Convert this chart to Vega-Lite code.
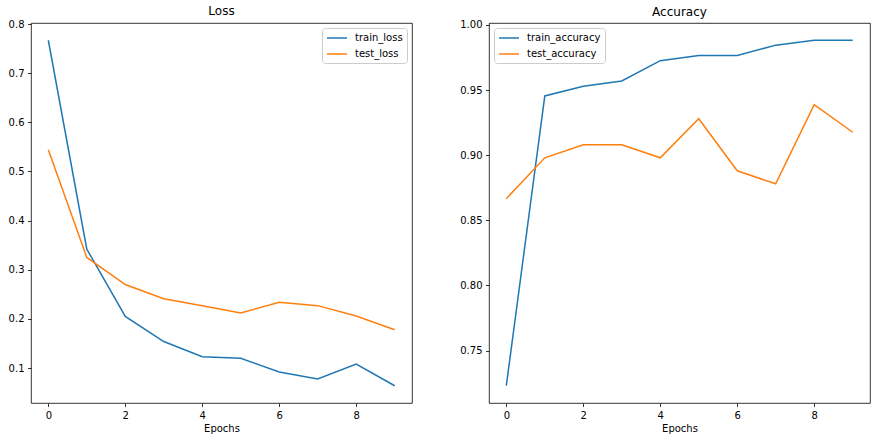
{
  "$schema": "https://vega.github.io/schema/vega-lite/v6.json",
  "background": "white",
  "padding": {"left": 7, "top": 4, "right": 5, "bottom": 5},
  "spacing": 46,
  "datasets": {
    "loss": [
      {"epoch": 0, "series": "train_loss", "value": 0.767},
      {"epoch": 1, "series": "train_loss", "value": 0.342},
      {"epoch": 2, "series": "train_loss", "value": 0.205},
      {"epoch": 3, "series": "train_loss", "value": 0.154},
      {"epoch": 4, "series": "train_loss", "value": 0.123},
      {"epoch": 5, "series": "train_loss", "value": 0.120},
      {"epoch": 6, "series": "train_loss", "value": 0.092},
      {"epoch": 7, "series": "train_loss", "value": 0.078},
      {"epoch": 8, "series": "train_loss", "value": 0.108},
      {"epoch": 9, "series": "train_loss", "value": 0.064},
      {"epoch": 0, "series": "test_loss", "value": 0.544},
      {"epoch": 1, "series": "test_loss", "value": 0.325},
      {"epoch": 2, "series": "test_loss", "value": 0.270},
      {"epoch": 3, "series": "test_loss", "value": 0.241},
      {"epoch": 4, "series": "test_loss", "value": 0.227},
      {"epoch": 5, "series": "test_loss", "value": 0.212},
      {"epoch": 6, "series": "test_loss", "value": 0.234},
      {"epoch": 7, "series": "test_loss", "value": 0.227},
      {"epoch": 8, "series": "test_loss", "value": 0.206},
      {"epoch": 9, "series": "test_loss", "value": 0.178}
    ],
    "acc": [
      {"epoch": 0, "series": "train_accuracy", "value": 0.723},
      {"epoch": 1, "series": "train_accuracy", "value": 0.9455},
      {"epoch": 2, "series": "train_accuracy", "value": 0.953},
      {"epoch": 3, "series": "train_accuracy", "value": 0.957},
      {"epoch": 4, "series": "train_accuracy", "value": 0.9726},
      {"epoch": 5, "series": "train_accuracy", "value": 0.9765},
      {"epoch": 6, "series": "train_accuracy", "value": 0.9765},
      {"epoch": 7, "series": "train_accuracy", "value": 0.9845},
      {"epoch": 8, "series": "train_accuracy", "value": 0.9882},
      {"epoch": 9, "series": "train_accuracy", "value": 0.9882},
      {"epoch": 0, "series": "test_accuracy", "value": 0.8666},
      {"epoch": 1, "series": "test_accuracy", "value": 0.898},
      {"epoch": 2, "series": "test_accuracy", "value": 0.908},
      {"epoch": 3, "series": "test_accuracy", "value": 0.908},
      {"epoch": 4, "series": "test_accuracy", "value": 0.898},
      {"epoch": 5, "series": "test_accuracy", "value": 0.928},
      {"epoch": 6, "series": "test_accuracy", "value": 0.888},
      {"epoch": 7, "series": "test_accuracy", "value": 0.878},
      {"epoch": 8, "series": "test_accuracy", "value": 0.9388},
      {"epoch": 9, "series": "test_accuracy", "value": 0.9176}
    ]
  },
  "config": {
    "font": "DejaVu Sans",
    "view": {"stroke": "black", "strokeWidth": 0.8},
    "axis": {
      "domain": false, "grid": false,
      "tickSize": 3.5, "tickColor": "black", "tickWidth": 0.8,
      "labelFontSize": 10, "labelColor": "black", "labelPadding": 3.5,
      "titleFontSize": 10, "titleFontWeight": "normal", "titleColor": "black", "titlePadding": 3
    },
    "title": {"fontSize": 12, "fontWeight": "normal", "color": "black", "offset": 1, "anchor": "middle"},
    "legend": {
      "offset": 5,
      "strokeColor": "#cccccc",
      "fillColor": "rgba(255,255,255,0.8)",
      "cornerRadius": 3,
      "padding": 4,
      "symbolType": "M-1,0H3",
      "symbolSize": 100,
      "symbolStrokeWidth": 1.5,
      "labelFontSize": 10,
      "labelColor": "black",
      "labelOffset": 17,
      "rowPadding": 5
    }
  },
  "resolve": {"scale": {"color": "independent"}, "legend": {"color": "independent"}},
  "hconcat": [
    {
      "width": 381, "height": 380,
      "title": "Loss",
      "data": {"name": "loss"},
      "mark": {"type": "line", "strokeWidth": 1.5},
      "encoding": {
        "x": {"field": "epoch", "type": "quantitative",
              "scale": {"domain": [-0.45, 9.45], "nice": false, "zero": false},
              "axis": {"values": [0, 2, 4, 6, 8], "title": "Epochs"}},
        "y": {"field": "value", "type": "quantitative",
              "scale": {"domain": [0.0289, 0.8021], "nice": false, "zero": false},
              "axis": {"values": [0.1, 0.2, 0.3, 0.4, 0.5, 0.6, 0.7, 0.8], "format": ".1f", "title": null}},
        "color": {"field": "series", "type": "nominal",
                  "scale": {"domain": ["train_loss", "test_loss"], "range": ["#1f77b4", "#ff7f0e"]},
                  "legend": {"title": null, "orient": "top-right"}}
      }
    },
    {
      "width": 381, "height": 380,
      "title": "Accuracy",
      "data": {"name": "acc"},
      "mark": {"type": "line", "strokeWidth": 1.5},
      "encoding": {
        "x": {"field": "epoch", "type": "quantitative",
              "scale": {"domain": [-0.45, 9.45], "nice": false, "zero": false},
              "axis": {"values": [0, 2, 4, 6, 8], "title": "Epochs"}},
        "y": {"field": "value", "type": "quantitative",
              "scale": {"domain": [0.7097, 1.0015], "nice": false, "zero": false},
              "axis": {"values": [0.75, 0.8, 0.85, 0.9, 0.95, 1.0], "format": ".2f", "title": null}},
        "color": {"field": "series", "type": "nominal",
                  "scale": {"domain": ["train_accuracy", "test_accuracy"], "range": ["#1f77b4", "#ff7f0e"]},
                  "legend": {"title": null, "orient": "top-left"}}
      }
    }
  ]
}
